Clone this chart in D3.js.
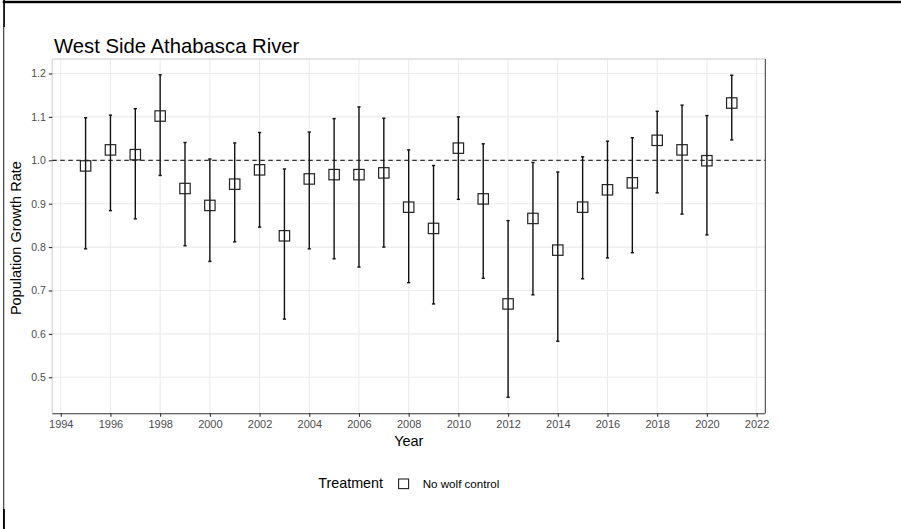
<!DOCTYPE html>
<html>
<head>
<meta charset="utf-8">
<script src="https://cdn.jsdelivr.net/npm/d3@7"></script>
<style>
  html, body { margin: 0; padding: 0; background: #fff; }
  svg { display: block; font-family: "Liberation Sans", Arial, sans-serif; }
</style>
</head>
<body>
<svg id="chart" width="901" height="529"></svg>
<script>
// ---- data ----
const years = [1995,1996,1997,1998,1999,2000,2001,2002,2003,2004,2005,2006,2007,2008,2009,2010,2011,2012,2013,2014,2015,2016,2017,2018,2019,2020,2021];
const growth = [0.987,1.024,1.013,1.102,0.935,0.896,0.945,0.978,0.826,0.957,0.967,0.967,0.971,0.892,0.843,1.028,0.911,0.669,0.866,0.793,0.892,0.932,0.948,1.046,1.024,0.999,1.132];
const upper  = [1.098,1.104,1.119,1.197,1.041,1.003,1.040,1.064,0.980,1.065,1.096,1.123,1.097,1.024,0.988,1.100,1.038,0.861,0.995,0.973,1.008,1.044,1.052,1.113,1.127,1.103,1.196];
const lower  = [0.796,0.884,0.865,0.965,0.803,0.767,0.812,0.846,0.634,0.796,0.773,0.754,0.800,0.718,0.669,0.910,0.728,0.454,0.690,0.583,0.727,0.775,0.787,0.925,0.876,0.828,1.047];
const xTicks = [1994,1996,1998,2000,2002,2004,2006,2008,2010,2012,2014,2016,2018,2020,2022];
const yTicks = [0.5,0.6,0.7,0.8,0.9,1.0,1.1,1.2];
const refLine = 1.0;
const titleText = "West Side Athabasca River";
const xTitle = "Year";
const yTitle = "Population Growth Rate";
const legendTitle = "Treatment";
const legendLabel = "No wolf control";

// ---- layout ----
const svg = d3.select("#chart");
const P = {left: 52.3, right: 765.3, top: 59, bottom: 413.3};
const x = d3.scaleLinear().domain([1993.66, 2022.35]).range([P.left, P.right]);
const y = d3.scaleLinear().domain([0.417, 1.2334]).range([P.bottom, P.top]);

// outer frame lines
svg.append("rect").attr("x", 2.7).attr("y", 0.8).attr("width", 901).attr("height", 2.4).attr("fill", "#000");
svg.append("rect").attr("x", 3.2).attr("y", 0).attr("width", 1.7).attr("height", 27).attr("fill", "#000");
svg.append("rect").attr("x", 3.3).attr("y", 27).attr("width", 0.9).attr("height", 482).attr("fill", "#000");
svg.append("rect").attr("x", 3.0).attr("y", 509).attr("width", 1.9).attr("height", 20).attr("fill", "#000");

// grid
const g = svg.append("g");
g.selectAll(".gy").data(yTicks).enter().append("line")
  .attr("x1", P.left).attr("x2", P.right)
  .attr("y1", d => y(d)).attr("y2", d => y(d))
  .attr("stroke", "#ebebeb").attr("stroke-width", 1.1);
g.selectAll(".gx").data(xTicks).enter().append("line")
  .attr("y1", P.top).attr("y2", P.bottom)
  .attr("x1", d => x(d)).attr("x2", d => x(d))
  .attr("stroke", "#ebebeb").attr("stroke-width", 1.1);

// panel border
svg.append("line").attr("x1", P.left).attr("x2", P.right).attr("y1", P.top).attr("y2", P.top)
  .attr("stroke", "#dcdcdc").attr("stroke-width", 1.5);
svg.append("line").attr("x1", P.left).attr("x2", P.left).attr("y1", P.top).attr("y2", P.bottom)
  .attr("stroke", "#dcdcdc").attr("stroke-width", 1.5);
svg.append("line").attr("x1", P.right).attr("x2", P.right).attr("y1", P.top).attr("y2", P.bottom)
  .attr("stroke", "#333").attr("stroke-width", 1);

// axes
const xAxis = d3.axisBottom(x).tickValues(xTicks).tickFormat(d3.format("d")).tickSize(3.5).tickPadding(3);
const xg = svg.append("g").attr("transform", `translate(0,${P.bottom})`).call(xAxis);
xg.select(".domain").attr("stroke", "#333").attr("stroke-width", 1.1).attr("d", `M${P.left},0.5H${P.right}`);
xg.selectAll(".tick line").attr("stroke", "#333").attr("stroke-width", 1.1);
xg.selectAll(".tick text").attr("fill", "#4d4d4d").attr("font-size", "11px").attr("font-family", "Liberation Sans, Arial, sans-serif");

const yAxis = d3.axisLeft(y).tickValues(yTicks).tickFormat(d3.format(".1f")).tickSize(3.5).tickPadding(3);
const yg = svg.append("g").attr("transform", `translate(${P.left},0)`).call(yAxis);
yg.select(".domain").remove();
yg.selectAll(".tick line").attr("stroke", "#333").attr("stroke-width", 1.1);
yg.selectAll(".tick text").attr("fill", "#4d4d4d").attr("font-size", "10.5px").attr("font-family", "Liberation Sans, Arial, sans-serif");

// reference line
svg.append("line").attr("x1", P.left).attr("x2", P.right)
  .attr("y1", y(refLine)).attr("y2", y(refLine))
  .attr("stroke", "#000").attr("stroke-width", 1).attr("stroke-dasharray", "4.5,3.5");

// error bars
const data = years.map((yr, i) => ({yr, v: growth[i], lo: lower[i], hi: upper[i]}));
const eb = svg.append("g");
eb.selectAll(".bar").data(data).enter().append("line")
  .attr("x1", d => x(d.yr)).attr("x2", d => x(d.yr))
  .attr("y1", d => y(d.hi)).attr("y2", d => y(d.lo))
  .attr("stroke", "#111").attr("stroke-width", 1.4);
eb.selectAll(".capt").data(data).enter().append("line")
  .attr("x1", d => x(d.yr) - 1.6).attr("x2", d => x(d.yr) + 1.6)
  .attr("y1", d => y(d.hi)).attr("y2", d => y(d.hi))
  .attr("stroke", "#111").attr("stroke-width", 1.4);
eb.selectAll(".capb").data(data).enter().append("line")
  .attr("x1", d => x(d.yr) - 1.6).attr("x2", d => x(d.yr) + 1.6)
  .attr("y1", d => y(d.lo)).attr("y2", d => y(d.lo))
  .attr("stroke", "#111").attr("stroke-width", 1.4);

// points (open squares)
const sq = 10.4;
svg.append("g").selectAll("rect").data(data).enter().append("rect")
  .attr("x", d => x(d.yr) - sq / 2).attr("y", d => y(d.v) - sq / 2)
  .attr("width", sq).attr("height", sq)
  .attr("fill", "none").attr("stroke", "#222").attr("stroke-width", 1.2);

// titles
svg.append("text").attr("x", 54).attr("y", 53).attr("font-size", "20.3px").attr("fill", "#000").text(titleText);
svg.append("text").attr("x", (P.left + P.right) / 2).attr("y", 446).attr("text-anchor", "middle")
  .attr("font-size", "14.5px").attr("fill", "#000").text(xTitle);
svg.append("text").attr("transform", `translate(21,${(P.top + P.bottom) / 2 + 2}) rotate(-90)`)
  .attr("text-anchor", "middle").attr("font-size", "14.5px").attr("fill", "#000").text(yTitle);

// legend
svg.append("text").attr("x", 318.3).attr("y", 488.3).attr("font-size", "14.3px").attr("fill", "#000").text(legendTitle);
svg.append("rect").attr("x", 398.6).attr("y", 479).attr("width", 10).attr("height", 9.6)
  .attr("fill", "none").attr("stroke", "#222").attr("stroke-width", 1.1);
svg.append("text").attr("x", 422.7).attr("y", 487.7).attr("font-size", "11.6px").attr("fill", "#000").text(legendLabel);
</script>
</body>
</html>
